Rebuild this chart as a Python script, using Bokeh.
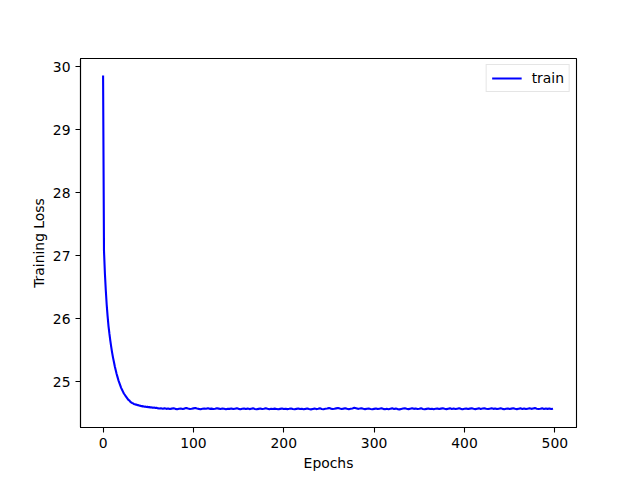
from bokeh.plotting import figure
from bokeh.models import Range1d, FixedTicker, Legend, LegendItem
from bokeh.embed import file_html
from bokeh.resources import INLINE

# Loss per epoch, epochs 0..59 (one value per epoch)
loss_early = [
    29.86, 27.08, 26.72, 26.45, 26.22, 26.04, 25.88, 25.76, 25.65, 25.55,
    25.46, 25.38, 25.31, 25.24, 25.18, 25.12, 25.07, 25.02, 24.98, 24.94,
    24.90, 24.87, 24.84, 24.81, 24.79, 24.77, 24.75, 24.73, 24.71, 24.70,
    24.68, 24.67, 24.66, 24.655, 24.645, 24.64, 24.632, 24.636, 24.622, 24.626,
    24.615, 24.618, 24.608, 24.612, 24.603, 24.607, 24.598, 24.602, 24.594, 24.599,
    24.591, 24.595, 24.588, 24.592, 24.585, 24.589, 24.582, 24.586, 24.579, 24.583,
]
# Plateau, sampled every 2 epochs from epoch 60
loss_flat_a = [
    24.578, 24.572, 24.575, 24.569, 24.574, 24.566, 24.571, 24.563, 24.570, 24.575,
    24.566, 24.561, 24.568, 24.572, 24.564, 24.570, 24.580, 24.571, 24.565, 24.568,
    24.574, 24.579, 24.572, 24.566, 24.561, 24.567, 24.573, 24.569, 24.575, 24.566,
    24.570, 24.563, 24.568, 24.576, 24.570, 24.564, 24.572, 24.567, 24.561, 24.568,
]
loss_flat_b = [
    24.566, 24.572, 24.563, 24.569, 24.575, 24.566, 24.560, 24.567, 24.573, 24.564,
    24.570, 24.562, 24.568, 24.574, 24.565, 24.559, 24.566, 24.571, 24.563, 24.569,
    24.576, 24.567, 24.561, 24.568, 24.563, 24.570, 24.565, 24.559, 24.566, 24.572,
    24.564, 24.569, 24.562, 24.567, 24.573, 24.564, 24.560, 24.566, 24.571, 24.563,
]
loss_flat_c = [
    24.568, 24.561, 24.566, 24.572, 24.563, 24.558, 24.565, 24.570, 24.562, 24.567,
    24.574, 24.565, 24.560, 24.567, 24.572, 24.578, 24.570, 24.563, 24.568, 24.574,
    24.580, 24.571, 24.565, 24.570, 24.576, 24.567, 24.561, 24.567, 24.573, 24.582,
    24.574, 24.566, 24.571, 24.577, 24.568, 24.562, 24.568, 24.573, 24.565, 24.560,
]
loss_flat_d = [
    24.566, 24.572, 24.563, 24.569, 24.575, 24.566, 24.560, 24.567, 24.561, 24.568,
    24.574, 24.565, 24.570, 24.562, 24.558, 24.565, 24.571, 24.576, 24.568, 24.562,
    24.569, 24.575, 24.566, 24.571, 24.563, 24.568, 24.574, 24.565, 24.560, 24.566,
    24.572, 24.563, 24.569, 24.561, 24.567, 24.573, 24.564, 24.570, 24.576, 24.567,
]
loss_flat_e = [
    24.562, 24.568, 24.574, 24.565, 24.571, 24.563, 24.569, 24.575, 24.566, 24.561,
    24.567, 24.573, 24.564, 24.570, 24.576, 24.567, 24.562, 24.568, 24.574, 24.565,
    24.571, 24.577, 24.568, 24.563, 24.569, 24.575, 24.566, 24.572, 24.563, 24.569,
    24.575, 24.566, 24.561, 24.567, 24.573, 24.564, 24.570, 24.576, 24.567, 24.562,
]
loss_flat_f = [
    24.568, 24.574, 24.565, 24.571, 24.563, 24.569, 24.575, 24.566, 24.572, 24.578,
    24.569, 24.563, 24.568, 24.574, 24.565, 24.571, 24.566, 24.572, 24.563, 24.569,
]

x_ticks = [0, 100, 200, 300, 400, 500]
y_ticks = [25, 26, 27, 28, 29, 30]

loss_flat = loss_flat_a + loss_flat_b + loss_flat_c + loss_flat_d + loss_flat_e + loss_flat_f
epochs = list(range(len(loss_early))) + [len(loss_early) + 2 * i for i in range(len(loss_flat))]
loss = loss_early + loss_flat

FONT = "DejaVu Sans"
FS = "13.9px"

p = figure(
    frame_width=496, frame_height=369,
    min_border_left=80, min_border_right=48, min_border_top=58, min_border_bottom=40,
    output_backend="svg", toolbar_location=None,
    x_range=Range1d(-25, 524), y_range=Range1d(24.27, 30.13),
)
p.background_fill_color = "white"
p.border_fill_color = "white"
p.outline_line_color = "black"
p.outline_line_width = 1.1
p.grid.visible = False

r = p.line(epochs, loss, line_color="#0000ff", line_width=2.1)

for ax in (p.xaxis[0], p.yaxis[0]):
    ax.axis_line_color = "black"
    ax.axis_line_width = 1.1
    ax.major_tick_line_color = "black"
    ax.major_tick_line_width = 1.1
    ax.major_tick_out = 5
    ax.major_tick_in = 0
    ax.minor_tick_line_color = None
    ax.major_label_text_font = FONT
    ax.major_label_text_font_size = FS
    ax.major_label_text_color = "black"
    ax.axis_label_text_font = FONT
    ax.axis_label_text_font_size = FS
    ax.axis_label_text_font_style = "normal"
    ax.axis_label_text_color = "black"
    ax.major_label_standoff = 5

p.xaxis[0].ticker = FixedTicker(ticks=x_ticks)
p.yaxis[0].ticker = FixedTicker(ticks=y_ticks)
p.xaxis[0].axis_label = "Epochs"
p.yaxis[0].axis_label = "Training Loss"
p.xaxis[0].axis_label_standoff = 4
p.yaxis[0].axis_label_standoff = 3

legend = Legend(items=[LegendItem(label="train", renderers=[r])], location="top_right")
legend.margin = 6
legend.padding = 5
legend.glyph_width = 30
legend.glyph_height = 16
legend.label_height = 16
legend.label_standoff = 10
legend.label_text_font = FONT
legend.label_text_font_size = FS
legend.label_text_color = "black"
legend.border_line_color = "#cccccc"
legend.border_line_width = 1
legend.background_fill_alpha = 0.8
p.add_layout(legend)

open("out.html", "w").write(file_html(p, INLINE))
